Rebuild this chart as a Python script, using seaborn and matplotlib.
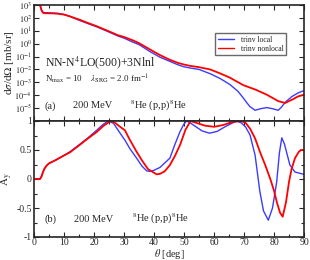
import numpy as np
import pandas as pd
import matplotlib
matplotlib.use("Agg")
import matplotlib.pyplot as plt
import matplotlib.ticker as mticker
import seaborn as sns

# --- cross section, panel (a) ---
theta_xs_local = [1.0, 1.5, 2.0, 2.5, 3.0, 3.5, 4.0, 6.0, 8.0, 10.0, 12.0, 15.0, 18.0,
                  21.0, 25.0, 28.0, 30.0, 33.0, 35.0, 38.7, 42.0, 45.0, 48.0, 50.0,
                  52.0, 55.0, 58.7, 62.0, 65.3, 68.0, 69.8, 71.0, 72.0, 73.7, 75.5,
                  77.6, 79.5, 81.4, 82.5, 83.7, 86.0, 88.0, 90.0]
xs_local = [2e4, 3e3, 1e3, 4.2e2, 2.7e2, 2.5e2, 2.5e2, 2.4e2, 2.25e2, 1.85e2, 1.3e2,
            6.6e1, 3.6e1, 2.0e1, 8.0, 3.9, 2.7, 1.3, 8.5e-1, 2.4e-1, 8.9e-2, 4.5e-2,
            2.3e-2, 1.6e-2, 1.3e-2, 1.0e-2, 4.7e-3, 2.0e-3, 6.8e-4, 2.0e-4, 6.0e-5,
            2.5e-5, 1.3e-5, 6.8e-6, 9.0e-6, 1.1e-5, 9.0e-6, 6.8e-6, 1.2e-5, 2.8e-5,
            8.0e-5, 1.5e-4, 2.3e-4]

theta_xs_nonlocal = [1.0, 1.5, 2.0, 2.5, 3.0, 3.5, 4.0, 6.0, 8.0, 10.0, 12.0, 15.0,
                     18.0, 21.0, 25.0, 28.0, 30.0, 33.0, 35.0, 38.7, 42.0, 45.0, 48.0,
                     50.0, 52.0, 55.0, 58.7, 62.0, 65.3, 69.8, 73.7, 77.6, 81.4, 83.7,
                     86.0, 88.0, 90.0]
xs_nonlocal = [2e4, 3e3, 1e3, 4e2, 2.5e2, 2.3e2, 2.3e2, 2.25e2, 2.1e2, 1.8e2, 1.3e2,
               7.5e1, 4.0e1, 2.2e1, 9.0, 4.5, 3.3, 1.8, 1.1, 3.5e-1, 1.3e-1, 6.0e-2,
               3.2e-2, 2.4e-2, 1.9e-2, 1.5e-2, 1.0e-2, 5.0e-3, 2.3e-3, 6.0e-4, 2.8e-4,
               1.1e-4, 3.5e-5, 2.5e-5, 4.5e-5, 8.0e-5, 1.1e-4]

# --- analyzing power, panel (b) ---
theta_ay_local = [0, 1, 2, 2.5, 3, 3.5, 4.2, 5, 7, 9.8, 12, 15.3, 18, 20.9, 23, 24.8,
                  26.5, 28.7, 30.3, 32, 34.2, 36, 37.6, 38.7, 40, 42, 45.3, 47, 48.7,
                  50, 50.9, 52, 54, 56, 58.5, 61, 64, 67.5, 69, 70.5, 72, 73.7, 75.3,
                  76.5, 78.1, 79.5, 80.9, 81.8, 82.6, 83.5, 85.3, 87, 90]
ay_local = [0, 0, 0, 0.05, 0.12, 0.18, 0.23, 0.27, 0.32, 0.40, 0.47, 0.60, 0.71, 0.84,
            0.94, 1.0, 0.96, 0.79, 0.67, 0.52, 0.36, 0.22, 0.14, 0.13, 0.15, 0.20,
            0.36, 0.60, 0.82, 0.95, 1.0, 0.97, 0.90, 0.83, 0.79, 0.82, 0.91, 1.0,
            0.97, 0.90, 0.76, 0.41, -0.22, -0.55, -0.71, -0.50, -0.05, 0.45, 0.71,
            0.60, 0.24, 0.12, 0.08]

theta_ay_nonlocal = [0, 2, 2.5, 3, 3.5, 4.2, 5, 7, 9.8, 12, 15.3, 18, 20.9, 23, 25.5,
                     27, 28.7, 30.3, 32, 34.2, 36, 38, 40.9, 42, 43.5, 45.3, 47, 48.7,
                     50.5, 52.2, 54, 57, 60, 63, 66, 69, 70.5, 72, 73.7, 75.3, 77,
                     78.7, 80, 80.9, 82, 82.9, 84, 85, 85.9, 87, 88.3, 89, 90]
ay_nonlocal = [0, 0, 0.04, 0.12, 0.18, 0.23, 0.27, 0.32, 0.40, 0.46, 0.59, 0.70, 0.81,
               0.91, 1.0, 0.97, 0.90, 0.84, 0.67, 0.47, 0.32, 0.17, 0.08, 0.09, 0.13,
               0.24, 0.40, 0.59, 0.85, 1.0, 0.97, 0.92, 0.90, 0.93, 0.98, 1.0, 0.97,
               0.87, 0.70, 0.47, 0.25, 0.01, -0.20, -0.39, -0.58, -0.65, -0.40, -0.05,
               0.18, 0.36, 0.47, 0.50, 0.50]

labels = ["trinv local", "trinv nonlocal"]
colors = {"trinv local": "#3b3bff", "trinv nonlocal": "#ff0000"}

df_xs = pd.concat([
    pd.DataFrame({"theta": theta_xs_local, "val": xs_local, "model": labels[0]}),
    pd.DataFrame({"theta": theta_xs_nonlocal, "val": xs_nonlocal, "model": labels[1]}),
])
df_ay = pd.concat([
    pd.DataFrame({"theta": theta_ay_local, "val": ay_local, "model": labels[0]}),
    pd.DataFrame({"theta": theta_ay_nonlocal, "val": ay_nonlocal, "model": labels[1]}),
])

sns.set_style("ticks")
plt.rcParams["font.family"] = ["Liberation Serif", "DejaVu Serif"]
plt.rcParams["mathtext.fontset"] = "stix"

fig = plt.figure(figsize=(3.1, 2.6), dpi=100)
ax1 = fig.add_axes([34 / 310, 1 - 121 / 260, 270 / 310, 116 / 260])
ax2 = fig.add_axes([34 / 310, 1 - 237 / 260, 270 / 310, 116 / 260])

for ax, df in [(ax1, df_xs), (ax2, df_ay)]:
    sns.lineplot(data=df, x="theta", y="val", hue="model", palette=colors,
                 ax=ax, sort=False, estimator=None, linewidth=1.0)
    ax.set_xlim(0, 90)
    ax.xaxis.set_major_locator(mticker.MultipleLocator(10))
    ax.xaxis.set_minor_locator(mticker.MultipleLocator(5))
    ax.tick_params(which="both", direction="in", top=True, right=True,
                   labelsize=7, width=0.8)
    ax.tick_params(which="major", length=3.5)
    ax.tick_params(which="minor", length=2)
    for s in ax.spines.values():
        s.set_linewidth(1.2)
    ax.set_xlabel("")
    ax.set_ylabel("")
    ax.lines[1].set_linewidth(1.3)

# panel (a)
ax1.set_yscale("log")
ax1.set_ylim(1e-6, 1e3)
ax1.yaxis.set_major_locator(mticker.LogLocator(base=10, numticks=20))
ax1.yaxis.set_minor_locator(mticker.NullLocator())
ax1.yaxis.set_major_formatter(mticker.FuncFormatter(
    lambda v, p: "" if v < 5e-6 else r"$10^{%d}$" % round(np.log10(v))))
ax1.tick_params(axis="y", labelsize=6, pad=1.5)
ax1.set_xticklabels([])
ax1.set_ylabel(r"d$\sigma$/d$\Omega$ [mb/sr]", fontsize=8)
ax1.yaxis.set_label_coords(-0.068, 0.5)

leg = ax1.legend(loc="upper left", bbox_to_anchor=(0.656, 0.79), fontsize=5.5,
                 frameon=True, fancybox=False, handlelength=2.2,
                 borderpad=0.35, labelspacing=0.1, handletextpad=0.8)
leg.get_frame().set_edgecolor("#444444")
leg.get_frame().set_linewidth(1.0)

ax1.text(0.04, 0.5, r"NN-N$^4$LO(500)+3Nlnl", transform=ax1.transAxes,
         fontsize=8.5, va="center")
ax1.text(0.04, 0.36, r"N$_{\rm max}$ = 10    $\lambda_{\rm SRG}$ = 2.0 fm$^{-1}$",
         transform=ax1.transAxes, fontsize=6.5, va="center")
ax1.text(0.04, 0.13, "(a)", transform=ax1.transAxes, fontsize=7.5, va="center")
ax1.text(0.143, 0.13, "200 MeV", transform=ax1.transAxes, fontsize=7.5, va="center")
ax1.text(0.356, 0.13, r"$^8$He (p,p)$^8$He", transform=ax1.transAxes,
         fontsize=7.5, va="center")

# panel (b)
ax2.set_ylim(-1, 1)
ax2.yaxis.set_major_locator(mticker.MultipleLocator(0.5))
ax2.yaxis.set_minor_locator(mticker.MultipleLocator(0.25))
ax2.yaxis.set_major_formatter(mticker.FuncFormatter(lambda v, p: "%g" % v))
ax2.tick_params(axis="y", pad=1.5)
ax2.tick_params(axis="x", pad=0.8)
ax2.legend().remove()
ax2.set_ylabel(r"A$_{\rm y}$", fontsize=8)
ax2.yaxis.set_label_coords(-0.072, 0.5)
ax2.set_xlabel(r"$\theta$ [deg]", fontsize=7.5)
ax2.xaxis.set_label_coords(0.5, -0.088)
ax2.text(0.04, 0.155, "(b)", transform=ax2.transAxes, fontsize=7.5, va="center")
ax2.text(0.148, 0.155, "200 MeV", transform=ax2.transAxes, fontsize=7.5, va="center")
ax2.text(0.363, 0.155, r"$^8$He (p,p)$^8$He", transform=ax2.transAxes,
         fontsize=7.5, va="center")

fig.savefig("out.png", dpi=100)
